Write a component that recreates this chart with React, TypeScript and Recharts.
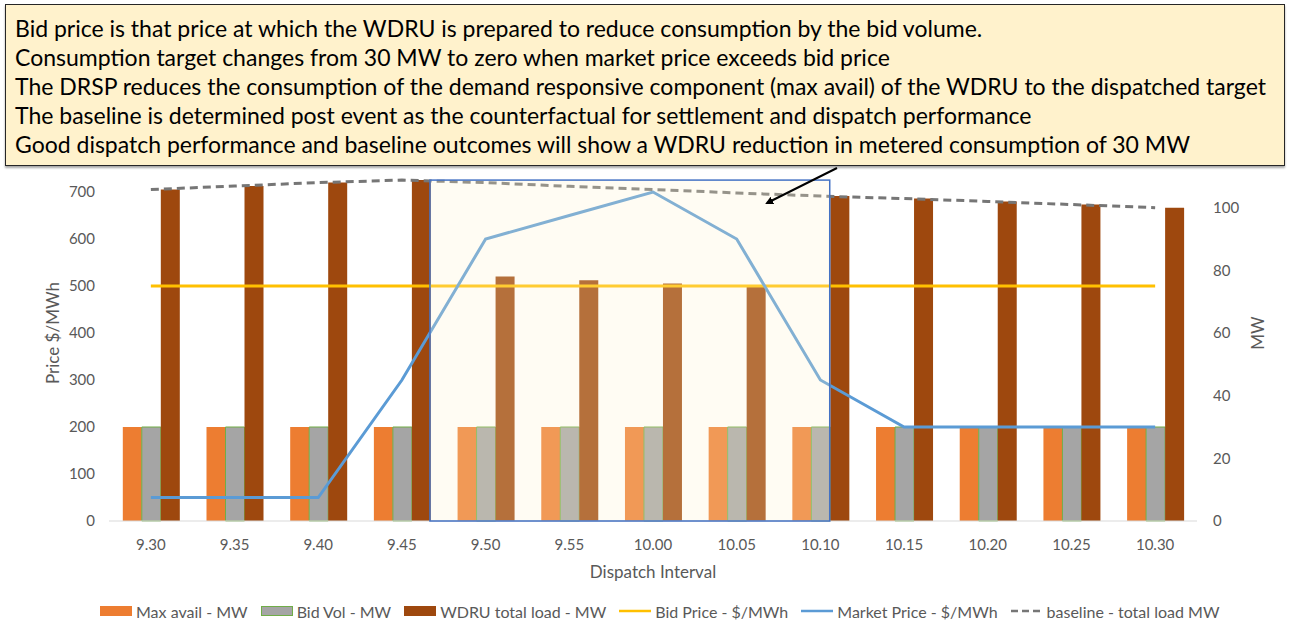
import React from 'react';
import { ComposedChart, Bar, Line, XAxis, YAxis, ReferenceArea, Legend } from 'recharts';

const intervals = ['9.30', '9.35', '9.40', '9.45', '9.50', '9.55', '10.00', '10.05', '10.10', '10.15', '10.20', '10.25', '10.30'];
const maxAvail = [30, 30, 30, 30, 30, 30, 30, 30, 30, 30, 30, 30, 30];
const bidVol = [30, 30, 30, 30, 30, 30, 30, 30, 30, 30, 30, 30, 30];
const wdruLoad = [105.8, 106.9, 108, 108.8, 78, 76.8, 75.8, 74.7, 103.7, 102.9, 102, 101, 100];
const bidPrice = [500, 500, 500, 500, 500, 500, 500, 500, 500, 500, 500, 500, 500];
const marketPrice = [50, 50, 50, 300, 600, 650, 700, 600, 300, 200, 200, 200, 200];
const baseline = [105.8, 106.9, 108, 108.8, 108, 106.8, 105.8, 104.7, 103.7, 102.9, 102, 101, 100];

const priceTicks = [0, 100, 200, 300, 400, 500, 600, 700];
const mwTicks = [0, 20, 40, 60, 80, 100];

const notes = [
  'Bid price is that price at which the WDRU is prepared to reduce consumption by the bid volume.',
  'Consumption target changes from 30 MW to zero when market price exceeds bid price',
  'The DRSP reduces the consumption of the demand responsive component (max avail) of the WDRU to the dispatched target',
  'The baseline is determined post event as the counterfactual for settlement and dispatch performance',
  'Good dispatch performance and baseline outcomes will show a WDRU reduction in metered consumption of 30 MW',
];

const data = intervals.map((interval, i) => ({
  interval,
  maxAvail: maxAvail[i],
  bidVol: bidVol[i],
  wdruLoad: wdruLoad[i],
  bidPrice: bidPrice[i],
  marketPrice: marketPrice[i],
  baseline: baseline[i],
}));

const FONT = 'Lato, "Open Sans", sans-serif';
const TEXT = '#595959';
const GAP = 0.165;

const legendItems = [
  { label: 'Max avail - MW', kind: 'box', fill: '#ed7d31', stroke: '#ed7d31' },
  { label: 'Bid Vol - MW', kind: 'box', fill: '#a5a5a5', stroke: '#70ad47' },
  { label: 'WDRU total load - MW', kind: 'box', fill: '#9e480e', stroke: '#9e480e' },
  { label: 'Bid Price - $/MWh', kind: 'line', stroke: '#ffc000' },
  { label: 'Market Price - $/MWh', kind: 'line', stroke: '#5b9bd5' },
  { label: 'baseline - total load MW', kind: 'dash', stroke: '#767676' },
];

const LegendContent = () => (
  <div
    style={{
      height: 28,
      boxSizing: 'border-box',
      paddingTop: 12,
      paddingLeft: 100,
      display: 'flex',
      alignItems: 'center',
      fontFamily: FONT,
      fontSize: 16,
      color: TEXT,
      whiteSpace: 'nowrap',
    }}
  >
    {legendItems.map((it) => (
      <div key={it.label} style={{ display: 'flex', alignItems: 'center', marginRight: 13 }}>
        <svg width={32} height={12} style={{ marginRight: 4 }}>
          {it.kind === 'box' && <rect x={0.5} y={1.5} width={31} height={9} fill={it.fill} stroke={it.stroke} />}
          {it.kind === 'line' && <line x1={0} x2={32} y1={6} y2={6} stroke={it.stroke} strokeWidth={2.5} />}
          {it.kind === 'dash' && (
            <line x1={0} x2={32} y1={6} y2={6} stroke={it.stroke} strokeWidth={2.5} strokeDasharray="7 4" />
          )}
        </svg>
        <span>{it.label}</span>
      </div>
    ))}
  </div>
);

const EventBox = (props: any) => {
  const { x, y, width, height } = props;
  const band = width / 6;
  const barW = (band * (1 - 2 * GAP)) / 3;
  const left = x + band * (1 - GAP);
  const right = x + width - band * GAP - barW;
  return (
    <rect
      x={left}
      y={y}
      width={right - left}
      height={height}
      fill="#fff2cc"
      fillOpacity={0.24}
      stroke="#4472c4"
      strokeWidth={1.5}
    />
  );
};

const YTitle = (dx: number, text: string) => (props: any) => {
  const vb = props.viewBox;
  const cx = vb.x + dx;
  const cy = vb.y + vb.height / 2;
  return (
    <text
      x={cx}
      y={cy}
      transform={`rotate(-90 ${cx} ${cy})`}
      textAnchor="middle"
      dominantBaseline="central"
      fill={TEXT}
      fontSize={17}
      fontFamily={FONT}
    >
      {text}
    </text>
  );
};

const XTitle = (props: any) => {
  const vb = props.viewBox;
  return (
    <text
      x={vb.x + vb.width / 2}
      y={vb.y + 50}
      textAnchor="middle"
      dominantBaseline="central"
      fill={TEXT}
      fontSize={17}
      fontFamily={FONT}
    >
      Dispatch Interval
    </text>
  );
};

export default function App() {
  const tick = { fontSize: 15, fill: TEXT, fontFamily: FONT };
  return (
    <div style={{ position: 'absolute', left: 0, top: 0, width: 1290, height: 622, background: '#fff' }}>
      <ComposedChart
        width={1290}
        height={622}
        data={data}
        margin={{ top: 145, right: 0, bottom: 3, left: 0 }}
        barGap={0}
        barCategoryGap={`${GAP * 100}%`}
      >
        <XAxis
          dataKey="interval"
          height={70}
          interval={0}
          tickLine={false}
          tickMargin={12}
          axisLine={{ stroke: '#d9d9d9' }}
          tick={tick}
          label={<XTitle />}
        />
        <YAxis
          yAxisId="left"
          width={109}
          domain={[0, 800]}
          ticks={priceTicks}
          tickLine={false}
          axisLine={false}
          tickMargin={8}
          tick={tick}
          label={YTitle(52, 'Price $/MWh')}
        />
        <YAxis
          yAxisId="right"
          orientation="right"
          width={93}
          domain={[0, 120]}
          ticks={mwTicks}
          tickLine={false}
          axisLine={false}
          tickMargin={10}
          tick={tick}
          label={YTitle(60, 'MW')}
        />
        <Bar yAxisId="right" dataKey="maxAvail" name="Max avail - MW" fill="#ed7d31" isAnimationActive={false} />
        <Bar
          yAxisId="right"
          dataKey="bidVol"
          name="Bid Vol - MW"
          fill="#a5a5a5"
          stroke="#70ad47"
          strokeWidth={1}
          isAnimationActive={false}
        />
        <Bar yAxisId="right" dataKey="wdruLoad" name="WDRU total load - MW" fill="#9e480e" isAnimationActive={false} />
        <Line
          yAxisId="left"
          dataKey="bidPrice"
          name="Bid Price - $/MWh"
          stroke="#ffc000"
          strokeWidth={3}
          dot={false}
          isAnimationActive={false}
        />
        <Line
          yAxisId="left"
          dataKey="marketPrice"
          name="Market Price - $/MWh"
          stroke="#5b9bd5"
          strokeWidth={3}
          dot={false}
          isAnimationActive={false}
        />
        <Line
          yAxisId="right"
          dataKey="baseline"
          name="baseline - total load MW"
          stroke="#767676"
          strokeWidth={3}
          strokeDasharray="8 5"
          dot={false}
          isAnimationActive={false}
        />
        <ReferenceArea
          yAxisId="right"
          x1="9.45"
          x2="10.10"
          y1={0}
          y2={108.8}
          ifOverflow="visible"
          shape={<EventBox />}
          zIndex={1000}
        />
        <Legend verticalAlign="bottom" height={28} wrapperStyle={{ left: 0, width: 1290 }} content={<LegendContent />} />
      </ComposedChart>

      <div
        style={{
          position: 'absolute',
          left: 5,
          top: 4,
          width: 1280,
          height: 162,
          boxSizing: 'border-box',
          background: '#fff2cc',
          border: '1px solid #262626',
          boxShadow: '0 2px 2px rgba(0,0,0,0.35)',
          padding: '9px 0 0 9px',
          fontFamily: FONT,
          fontSize: 23,
          lineHeight: '29px',
          color: '#000',
          whiteSpace: 'nowrap',
        }}
      >
        {notes.map((n) => (
          <div key={n}>{n}</div>
        ))}
      </div>

      <svg width={1290} height={622} style={{ position: 'absolute', left: 0, top: 0, pointerEvents: 'none' }}>
        <defs>
          <marker id="arrowhead" markerWidth="8" markerHeight="8" refX="6" refY="4" orient="auto" markerUnits="userSpaceOnUse">
            <path d="M0,0 L8,4 L0,8 Z" fill="#000" />
          </marker>
        </defs>
        <line x1={837} y1={168} x2={767} y2={203} stroke="#000" strokeWidth={2} markerEnd="url(#arrowhead)" />
      </svg>
    </div>
  );
}
